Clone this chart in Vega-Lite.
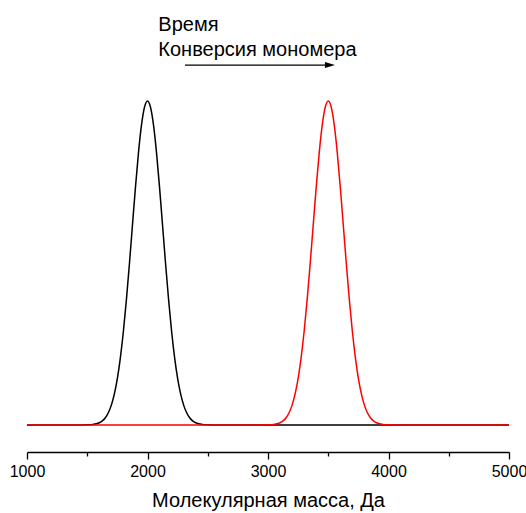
{
  "$schema": "https://vega.github.io/schema/vega-lite/v6.json",
  "width": 482,
  "height": 324,
  "autosize": {"type": "none"},
  "padding": {"left": 27, "top": 101, "right": 17, "bottom": 88},
  "background": "white",
  "config": {"view": {"stroke": null}, "font": "Liberation Sans"},
  "datasets": {
    "curves": [
      {"m": 1000, "v": 0, "s": "a"}, {"m": 1400, "v": 0, "s": "a"}, {"m": 1450, "v": 0.0001, "s": "a"}, {"m": 1500, "v": 0.0004, "s": "a"},
      {"m": 1550, "v": 0.0019, "s": "a"}, {"m": 1575, "v": 0.0037, "s": "a"}, {"m": 1600, "v": 0.007, "s": "a"}, {"m": 1625, "v": 0.0128, "s": "a"},
      {"m": 1650, "v": 0.0224, "s": "a"}, {"m": 1675, "v": 0.0379, "s": "a"}, {"m": 1700, "v": 0.0614, "s": "a"}, {"m": 1725, "v": 0.0959, "s": "a"},
      {"m": 1750, "v": 0.1441, "s": "a"}, {"m": 1775, "v": 0.2082, "s": "a"}, {"m": 1800, "v": 0.2894, "s": "a"}, {"m": 1825, "v": 0.387, "s": "a"},
      {"m": 1850, "v": 0.4978, "s": "a"}, {"m": 1875, "v": 0.6161, "s": "a"}, {"m": 1900, "v": 0.7334, "s": "a"}, {"m": 1925, "v": 0.84, "s": "a"},
      {"m": 1950, "v": 0.9254, "s": "a"}, {"m": 1975, "v": 0.9808, "s": "a"}, {"m": 2000, "v": 1, "s": "a"}, {"m": 2025, "v": 0.9808, "s": "a"},
      {"m": 2050, "v": 0.9254, "s": "a"}, {"m": 2075, "v": 0.84, "s": "a"}, {"m": 2100, "v": 0.7334, "s": "a"}, {"m": 2125, "v": 0.6161, "s": "a"},
      {"m": 2150, "v": 0.4978, "s": "a"}, {"m": 2175, "v": 0.387, "s": "a"}, {"m": 2200, "v": 0.2894, "s": "a"}, {"m": 2225, "v": 0.2082, "s": "a"},
      {"m": 2250, "v": 0.1441, "s": "a"}, {"m": 2275, "v": 0.0959, "s": "a"}, {"m": 2300, "v": 0.0614, "s": "a"}, {"m": 2325, "v": 0.0379, "s": "a"},
      {"m": 2350, "v": 0.0224, "s": "a"}, {"m": 2375, "v": 0.0128, "s": "a"}, {"m": 2400, "v": 0.007, "s": "a"}, {"m": 2425, "v": 0.0037, "s": "a"},
      {"m": 2450, "v": 0.0019, "s": "a"}, {"m": 2500, "v": 0.0004, "s": "a"}, {"m": 2550, "v": 0.0001, "s": "a"}, {"m": 2600, "v": 0, "s": "a"},
      {"m": 5000, "v": 0, "s": "a"},
      {"m": 1000, "v": 0, "s": "b"}, {"m": 2900, "v": 0, "s": "b"}, {"m": 2950, "v": 0.0001, "s": "b"}, {"m": 3000, "v": 0.0004, "s": "b"},
      {"m": 3050, "v": 0.0019, "s": "b"}, {"m": 3075, "v": 0.0037, "s": "b"}, {"m": 3100, "v": 0.007, "s": "b"}, {"m": 3125, "v": 0.0128, "s": "b"},
      {"m": 3150, "v": 0.0224, "s": "b"}, {"m": 3175, "v": 0.0379, "s": "b"}, {"m": 3200, "v": 0.0614, "s": "b"}, {"m": 3225, "v": 0.0959, "s": "b"},
      {"m": 3250, "v": 0.1441, "s": "b"}, {"m": 3275, "v": 0.2082, "s": "b"}, {"m": 3300, "v": 0.2894, "s": "b"}, {"m": 3325, "v": 0.387, "s": "b"},
      {"m": 3350, "v": 0.4978, "s": "b"}, {"m": 3375, "v": 0.6161, "s": "b"}, {"m": 3400, "v": 0.7334, "s": "b"}, {"m": 3425, "v": 0.84, "s": "b"},
      {"m": 3450, "v": 0.9254, "s": "b"}, {"m": 3475, "v": 0.9808, "s": "b"}, {"m": 3500, "v": 1, "s": "b"}, {"m": 3525, "v": 0.9808, "s": "b"},
      {"m": 3550, "v": 0.9254, "s": "b"}, {"m": 3575, "v": 0.84, "s": "b"}, {"m": 3600, "v": 0.7334, "s": "b"}, {"m": 3625, "v": 0.6161, "s": "b"},
      {"m": 3650, "v": 0.4978, "s": "b"}, {"m": 3675, "v": 0.387, "s": "b"}, {"m": 3700, "v": 0.2894, "s": "b"}, {"m": 3725, "v": 0.2082, "s": "b"},
      {"m": 3750, "v": 0.1441, "s": "b"}, {"m": 3775, "v": 0.0959, "s": "b"}, {"m": 3800, "v": 0.0614, "s": "b"}, {"m": 3825, "v": 0.0379, "s": "b"},
      {"m": 3850, "v": 0.0224, "s": "b"}, {"m": 3875, "v": 0.0128, "s": "b"}, {"m": 3900, "v": 0.007, "s": "b"}, {"m": 3925, "v": 0.0037, "s": "b"},
      {"m": 3950, "v": 0.0019, "s": "b"}, {"m": 4000, "v": 0.0004, "s": "b"}, {"m": 4050, "v": 0.0001, "s": "b"}, {"m": 4100, "v": 0, "s": "b"},
      {"m": 5000, "v": 0, "s": "b"}
    ],
    "notes": [
      {"m": 2090, "v": 1.217, "t": "Время"},
      {"m": 2090, "v": 1.14, "t": "Конверсия мономера"}
    ],
    "arrow": [
      {"m": 2311, "m2": 3514, "v": 1.111}
    ]
  },
  "layer": [
    {
      "data": {"name": "curves"},
      "mark": {"type": "line", "strokeWidth": 1.5, "interpolate": "monotone"},
      "encoding": {
        "x": {
          "field": "m", "type": "quantitative",
          "scale": {"domain": [1000, 5000], "nice": false, "zero": false},
          "axis": {
            "values": [1000, 2000, 3000, 4000, 5000], "format": "d", "grid": false,
            "offset": 27, "tickSize": 7, "tickWidth": 1.3, "tickColor": "#000", "domainColor": "#000", "domainWidth": 1.3,
            "labelFontSize": 16, "labelColor": "#000", "labelPadding": 4, "labelFlush": false, "labelOverlap": false,
            "title": "Молекулярная масса, Да", "titleFontSize": 20, "titleFontWeight": "normal", "titleColor": "#000", "titlePadding": 11
          }
        },
        "y": {
          "field": "v", "type": "quantitative",
          "scale": {"domain": [0, 1], "nice": false},
          "axis": null
        },
        "color": {
          "field": "s", "type": "nominal",
          "scale": {"domain": ["a", "b"], "range": ["#000000", "#ff0000"]},
          "legend": null
        }
      }
    },
    {
      "data": {"name": "curves"},
      "mark": {"type": "point", "opacity": 0},
      "encoding": {
        "x": {
          "field": "m", "type": "quantitative",
          "scale": {"domain": [1000, 5000], "nice": false, "zero": false},
          "axis": {
            "orient": "bottom", "values": [1500, 2500, 3500, 4500], "grid": false, "labels": false, "domain": false,
            "offset": 27, "tickSize": 4, "tickWidth": 1.3, "tickColor": "#000", "title": null
          }
        },
        "y": {"field": "v", "type": "quantitative", "scale": {"domain": [0, 1], "nice": false}, "axis": null}
      }
    },
    {
      "data": {"name": "notes"},
      "mark": {"type": "text", "align": "left", "baseline": "alphabetic", "fontSize": 20, "color": "#000"},
      "encoding": {
        "x": {"field": "m", "type": "quantitative", "axis": null},
        "y": {"field": "v", "type": "quantitative", "axis": null},
        "text": {"field": "t"}
      }
    },
    {
      "data": {"name": "arrow"},
      "mark": {"type": "rule", "strokeWidth": 1.2, "color": "#000"},
      "encoding": {
        "x": {"field": "m", "type": "quantitative", "axis": null},
        "x2": {"field": "m2"},
        "y": {"field": "v", "type": "quantitative", "axis": null}
      }
    },
    {
      "data": {"name": "arrow"},
      "mark": {"type": "point", "shape": "M-1,-0.6L1,0L-1,0.6Z", "size": 100, "filled": true, "color": "#000", "opacity": 1, "strokeWidth": 0},
      "encoding": {
        "x": {"field": "m2", "type": "quantitative", "axis": null},
        "y": {"field": "v", "type": "quantitative", "axis": null}
      }
    }
  ],
  "resolve": {"axis": {"x": "independent"}}
}
